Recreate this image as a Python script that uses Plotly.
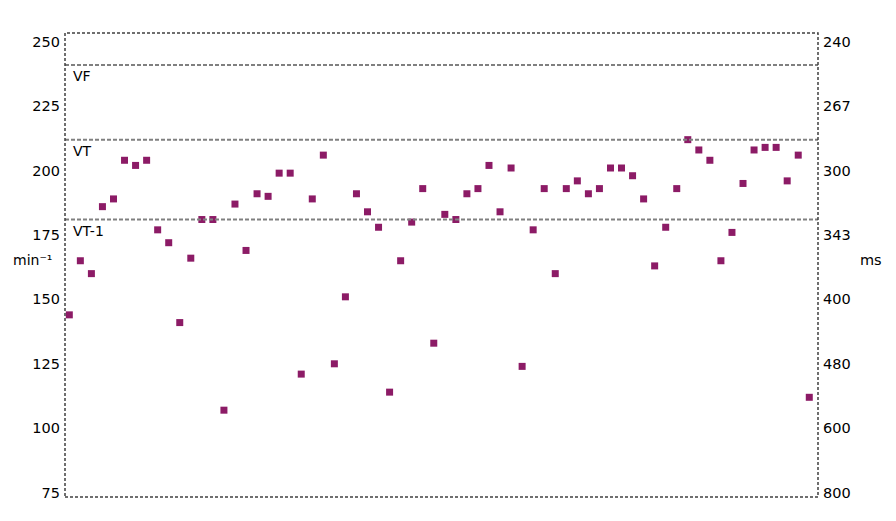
import plotly.graph_objects as go

# heart rate per beat (min^-1)
beat = list(range(68))
rate = [144, 165, 160, 186, 189, 204, 202, 204, 177, 172,
        141, 166, 181, 181, 107, 187, 169, 191, 190, 199,
        199, 121, 189, 206, 125, 151, 191, 184, 178, 114,
        165, 180, 193, 133, 183, 181, 191, 193, 202, 184,
        201, 124, 177, 193, 160, 193, 196, 191, 193, 201,
        201, 198, 189, 163, 178, 193, 212, 208, 204, 165,
        176, 195, 208, 209, 209, 196, 206, 112]

zone_names = ["VF", "VT", "VT-1"]
zone_limits = [241, 212, 181]

tick_bpm = [75, 100, 125, 150, 175, 200, 225, 250]
tick_ms = ["800", "600", "480", "400", "343", "300", "267", "240"]

FONT = "DejaVu Sans"
y_range = [73.3, 253.4]

fig = go.Figure()
fig.add_trace(go.Scatter(
    x=beat, y=rate, mode="markers",
    marker=dict(symbol="square", size=7, color="#8c1b66",
                line=dict(width=0)),
    showlegend=False, hoverinfo="y"
))
# invisible trace to activate the right axis
fig.add_trace(go.Scatter(x=[beat[0]], y=[rate[0]], yaxis="y2",
                         mode="markers", marker=dict(opacity=0),
                         showlegend=False, hoverinfo="skip"))

for name, lim in zip(zone_names, zone_limits):
    fig.add_shape(type="line", xref="paper", x0=0, x1=1, yref="y",
                  y0=lim, y1=lim,
                  line=dict(color="#808080", width=2, dash="4px,2px"))
    fig.add_annotation(x=0.008, xref="paper", y=lim, yref="y", text=name,
                       showarrow=False, xanchor="left", yanchor="top",
                       yshift=-1, font=dict(family=FONT, size=14, color="black"))

# dashed frame around plot area
fig.add_shape(type="rect", xref="paper", yref="paper", x0=0, x1=1, y0=0, y1=1,
              line=dict(color="#404040", width=1.5, dash="3px,2px"))

fig.add_annotation(x=-0.072, xref="paper", y=0.51, yref="paper", text="min⁻¹",
                   showarrow=False, xanchor="left",
                   font=dict(family=FONT, size=14, color="black"))
fig.add_annotation(x=1.053, xref="paper", y=0.51, yref="paper", text="ms",
                   showarrow=False, xanchor="left",
                   font=dict(family=FONT, size=14.5, color="black"))

# page body adds an 8px margin, so the figure is sized to fit inside it
fig.update_layout(
    width=880, height=505,
    margin=dict(l=57, r=70, t=25, b=14),
    plot_bgcolor="white", paper_bgcolor="white",
    font=dict(family=FONT, size=14.5, color="black"),
    xaxis=dict(range=[-0.39, 67.79], showticklabels=False, showgrid=False,
               zeroline=False, showline=False, ticks=""),
    yaxis=dict(range=y_range, tickvals=tick_bpm, showgrid=False,
               zeroline=False, showline=False, ticks="", ticklabelstandoff=4),
    yaxis2=dict(range=y_range, overlaying="y", side="right",
                tickvals=tick_bpm, ticktext=tick_ms, showgrid=False,
                zeroline=False, showline=False, ticks="", ticklabelstandoff=4),
)

fig.write_html("out.html")
